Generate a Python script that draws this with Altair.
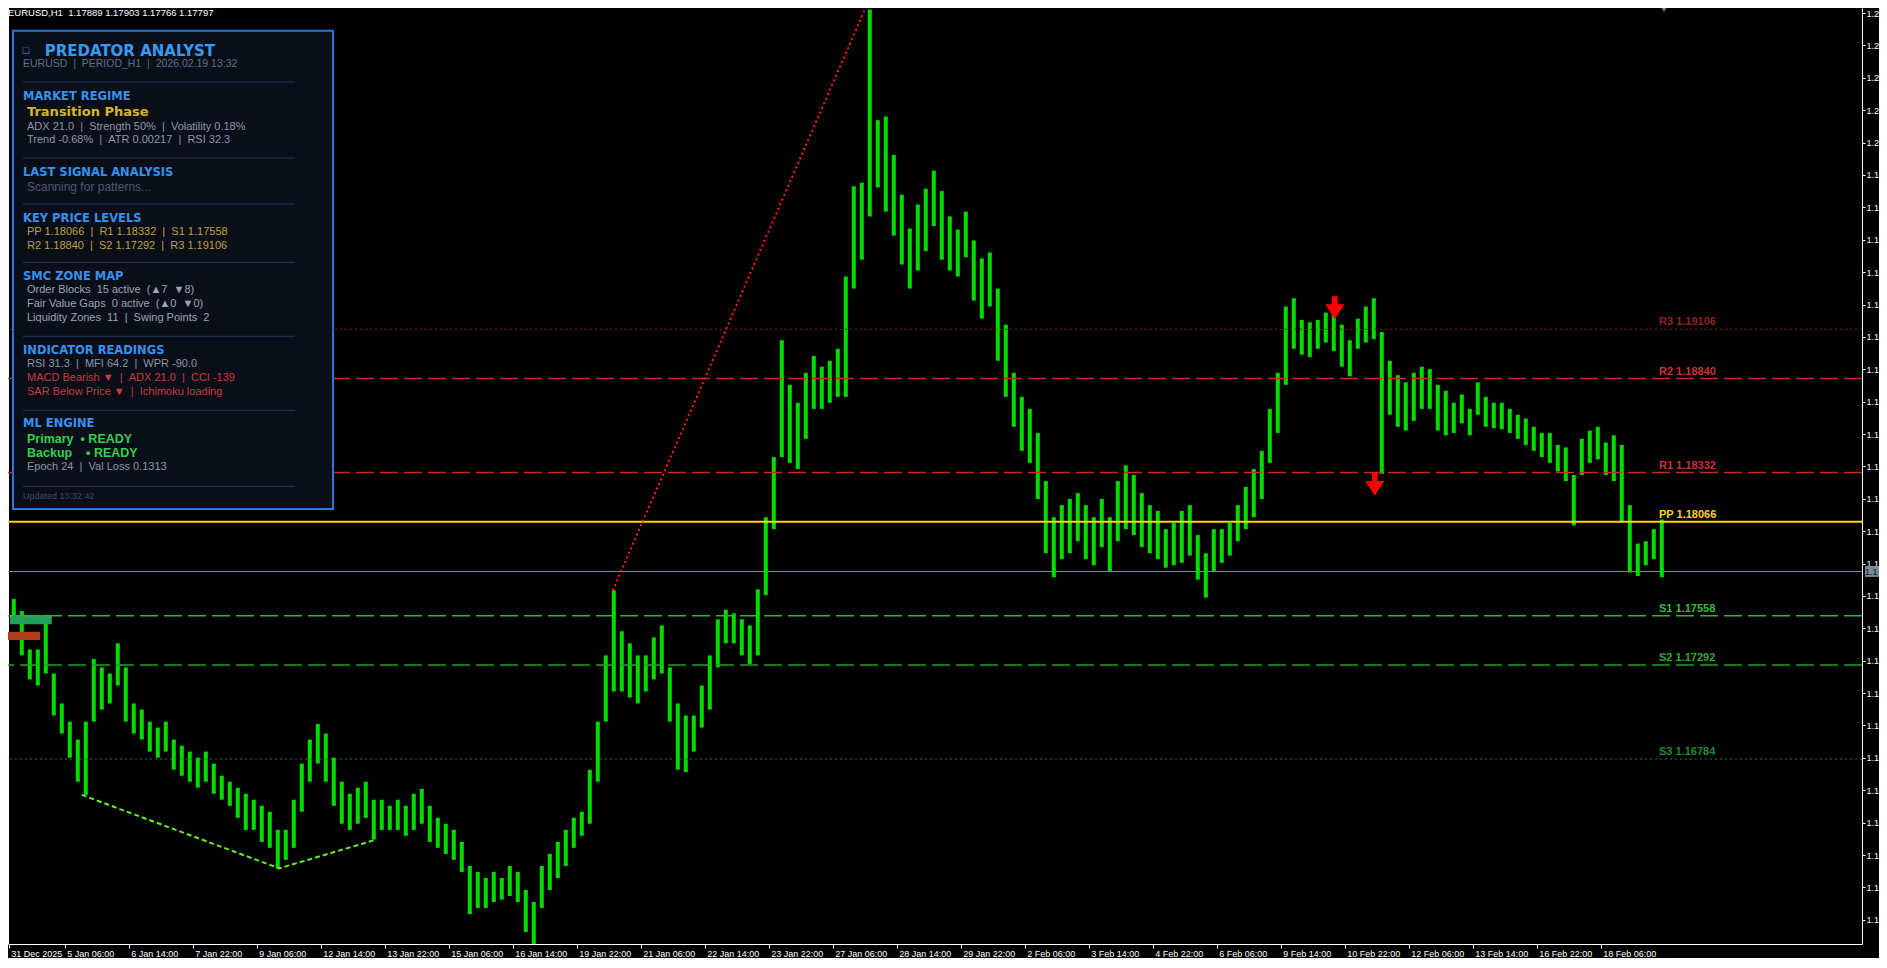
import altair as alt
import pandas as pd

FONT = "Liberation Sans"
FONT_HEAVY = "DejaVu Sans"

# ---------------- price data: EURUSD H1, grouped in 4-hour blocks (high / low) ----------------
highs = [1.17539, 1.17649, 1.17584, 1.17376, 1.17376, 1.17539, 1.17246, 1.17084, 1.16986, 1.16889,
         1.16986, 1.17324, 1.17279, 1.17246, 1.17409, 1.17279, 1.17084, 1.17051, 1.16986, 1.16954,
         1.16986, 1.16889, 1.16856, 1.16824, 1.16791, 1.16824, 1.16759, 1.16694, 1.16661, 1.16629,
         1.16596, 1.16564, 1.16531, 1.16499, 1.16401, 1.16401, 1.16564, 1.16759, 1.16889, 1.16973,
         1.16921, 1.16791, 1.16661, 1.16596, 1.16629, 1.16661, 1.16564, 1.16564, 1.16531, 1.16564,
         1.16531, 1.16596, 1.16622, 1.16531, 1.16466, 1.16434, 1.16401, 1.16336, 1.16206, 1.16174,
         1.16141, 1.16174, 1.16141, 1.16206, 1.16174, 1.16076, 1.16011, 1.16206, 1.16271, 1.16336,
         1.16401, 1.16466, 1.16499, 1.16726, 1.16986, 1.17344, 1.17695, 1.17474, 1.17409, 1.17344,
         1.17344, 1.17441, 1.17506, 1.17279, 1.17084, 1.17019, 1.17019, 1.17181, 1.17344, 1.17539,
         1.17591, 1.17571, 1.17539, 1.17506, 1.17701, 1.18091, 1.18416, 1.19047, 1.18806, 1.18709,
         1.18871, 1.18962, 1.18904, 1.18936, 1.19001, 1.19391, 1.19879, 1.19898, 1.20834, 1.20236,
         1.20256, 1.20048, 1.19833, 1.19651, 1.19781, 1.19866, 1.19963, 1.19853, 1.19716, 1.19645,
         1.19742, 1.19586, 1.19489, 1.19521, 1.19326, 1.19131, 1.18871, 1.18741, 1.18676, 1.18546,
         1.18286, 1.18091, 1.18156, 1.18189, 1.18221, 1.18156, 1.18091, 1.18189, 1.18091, 1.18286,
         1.18371, 1.18319, 1.18221, 1.18156, 1.18124, 1.18026, 1.18059, 1.18124, 1.18156, 1.17994,
         1.17896, 1.18026, 1.18026, 1.18059, 1.18156, 1.18254, 1.18351, 1.18449, 1.18676, 1.18871,
         1.19229, 1.19274, 1.19157, 1.19144, 1.19157, 1.19196, 1.19183, 1.19131, 1.19047, 1.19164,
         1.19229, 1.19274, 1.19092, 1.18936, 1.18858, 1.18819, 1.18871, 1.18904, 1.18891, 1.18806,
         1.18774, 1.18709, 1.18754, 1.18676, 1.18819, 1.18741, 1.18709, 1.18709, 1.18676, 1.18644,
         1.18624, 1.18579, 1.18546, 1.18546, 1.18481, 1.18468, 1.18319, 1.18514, 1.18559, 1.18579,
         1.18494, 1.18533, 1.18481, 1.18156, 1.17948, 1.17961, 1.18026, 1.18078]
lows = [1.17441, 1.17539, 1.17344, 1.17214, 1.17181, 1.17246, 1.17019, 1.16921, 1.16791, 1.16661,
        1.16590, 1.16986, 1.17051, 1.17084, 1.17181, 1.16986, 1.16921, 1.16889, 1.16824, 1.16791,
        1.16824, 1.16726, 1.16694, 1.16661, 1.16629, 1.16661, 1.16596, 1.16564, 1.16531, 1.16466,
        1.16401, 1.16401, 1.16336, 1.16304, 1.16193, 1.16239, 1.16304, 1.16499, 1.16661, 1.16759,
        1.16661, 1.16531, 1.16434, 1.16401, 1.16434, 1.16466, 1.16349, 1.16401, 1.16401, 1.16401,
        1.16369, 1.16401, 1.16434, 1.16336, 1.16304, 1.16271, 1.16239, 1.16174, 1.15946, 1.15979,
        1.15979, 1.16011, 1.16024, 1.16044, 1.16011, 1.15849, 1.15784, 1.15979, 1.16076, 1.16141,
        1.16206, 1.16304, 1.16369, 1.16434, 1.16661, 1.16986, 1.17149, 1.17149, 1.17116, 1.17084,
        1.17149, 1.17214, 1.17246, 1.16986, 1.16726, 1.16713, 1.16824, 1.16954, 1.17051, 1.17279,
        1.17409, 1.17409, 1.17344, 1.17298, 1.17344, 1.17669, 1.18026, 1.18416, 1.18384, 1.18351,
        1.18514, 1.18676, 1.18676, 1.18709, 1.18741, 1.18741, 1.19326, 1.19482, 1.19716, 1.19872,
        1.19742, 1.19612, 1.19456, 1.19326, 1.19424, 1.19528, 1.19664, 1.19482, 1.19424, 1.19391,
        1.19495, 1.19261, 1.19164, 1.19229, 1.18936, 1.18741, 1.18579, 1.18449, 1.18384, 1.18189,
        1.17896, 1.17766, 1.17864, 1.17896, 1.17961, 1.17864, 1.17831, 1.17929, 1.17799, 1.17961,
        1.18026, 1.17994, 1.17929, 1.17896, 1.17864, 1.17818, 1.17831, 1.17844, 1.17883, 1.17753,
        1.17656, 1.17799, 1.17844, 1.17883, 1.17961, 1.18026, 1.18091, 1.18189, 1.18384, 1.18546,
        1.18806, 1.19001, 1.18969, 1.18956, 1.19001, 1.19034, 1.18988, 1.18904, 1.18852, 1.19001,
        1.19034, 1.19053, 1.18325, 1.18644, 1.18579, 1.18559, 1.18611, 1.18676, 1.18676, 1.18559,
        1.18533, 1.18546, 1.18598, 1.18533, 1.18644, 1.18579, 1.18572, 1.18566, 1.18546, 1.18514,
        1.18481, 1.18449, 1.18416, 1.18384, 1.18338, 1.18286, 1.18046, 1.18319, 1.18384, 1.18403,
        1.18319, 1.18286, 1.18065, 1.17792, 1.17773, 1.17831, 1.17864, 1.17766]
hours_per_group = 4
group_pos = [hours_per_group * k + 1.5 for k in range(len(highs))]   # bar index (hours)

# time axis (bar index of each label)
time_labels = ["31 Dec 2025", "5 Jan 06:00", "6 Jan 14:00", "7 Jan 22:00", "9 Jan 06:00", "12 Jan 14:00",
               "13 Jan 22:00", "15 Jan 06:00", "16 Jan 14:00", "19 Jan 22:00", "21 Jan 06:00", "22 Jan 14:00",
               "23 Jan 22:00", "27 Jan 06:00", "28 Jan 14:00", "29 Jan 22:00", "2 Feb 06:00", "3 Feb 14:00",
               "4 Feb 22:00", "6 Feb 06:00", "9 Feb 14:00", "10 Feb 22:00", "12 Feb 06:00", "13 Feb 14:00",
               "16 Feb 22:00", "18 Feb 06:00"]
time_ticks = [3, 31, 63, 95, 127, 159, 191, 223, 255, 287, 319, 351, 383, 415, 447, 479, 511, 543,
              575, 607, 639, 671, 703, 735, 767, 799]

price_ticks = [1.20815, 1.20640, 1.20465, 1.20290, 1.20115, 1.19940, 1.19765, 1.19590, 1.19415, 1.19240,
               1.19065, 1.18890, 1.18715, 1.18540, 1.18365, 1.18190, 1.18015, 1.17840, 1.17665, 1.17490,
               1.17315, 1.17140, 1.16965, 1.16790, 1.16615, 1.16440, 1.16265, 1.16090, 1.15915]

# pivot levels
level_names = ["R3", "R2", "R1", "PP", "S1", "S2", "S3"]
level_prices = [1.19106, 1.18840, 1.18332, 1.18066, 1.17558, 1.17292, 1.16784]
level_label_colors = ["#8e2020", "#c83232", "#c83232", "#ffd21a", "#3cba3c", "#2eaa2e", "#1f8a2f"]

bid_price = 1.17797
ohlc_text = "EURUSD,H1\u00a0\u00a01.17889 1.17903 1.17766 1.17797"

# drawings
trend_idx = [305, 431]
trend_price = [1.17695, 1.20834]
swing_idx = [39.5, 138.2, 186.9]
swing_price = [1.16590, 1.16193, 1.16349]
ob_start = [3.6, 0.0]
ob_end = [24.5, 18.6]
ob_top = [1.17562, 1.17472]
ob_bottom = [1.17512, 1.17427]
ob_colors = ["#24a05c", "#b03e1c"]
arrow_idx = [666, 686]
arrow_price = [1.19223, 1.18268]

# info panel
S = "\u00a0\u00a0"
panel_text = ["□", "PREDATOR ANALYST", f"EURUSD{S}|{S}PERIOD_H1{S}|{S}2026.02.19 13:32",
              "MARKET REGIME", "Transition Phase",
              f"ADX 21.0{S}|{S}Strength 50%{S}|{S}Volatility 0.18%",
              f"Trend -0.68%{S}|{S}ATR 0.00217{S}|{S}RSI 32.3",
              "LAST SIGNAL ANALYSIS", "Scanning for patterns...",
              "KEY PRICE LEVELS",
              f"PP 1.18066{S}|{S}R1 1.18332{S}|{S}S1 1.17558",
              f"R2 1.18840{S}|{S}S2 1.17292{S}|{S}R3 1.19106",
              "SMC ZONE MAP",
              f"Order Blocks{S}15 active{S}(▲7{S}▼8)",
              f"Fair Value Gaps{S}0 active{S}(▲0{S}▼0)",
              f"Liquidity Zones{S}11{S}|{S}Swing Points{S}2",
              "INDICATOR READINGS",
              f"RSI 31.3{S}|{S}MFI 64.2{S}|{S}WPR -90.0",
              f"MACD Bearish ▼{S}|{S}ADX 21.0{S}|{S}CCI -139",
              f"SAR Below Price ▼{S}|{S}Ichimoku loading",
              "ML ENGINE", f"Primary{S}• READY", f"Backup{S}\u00a0\u00a0• READY",
              f"Epoch 24{S}|{S}Val Loss 0.1313", "Updated 13:32:42"]
panel_kind = ["icon", "title", "sub", "head", "regime", "stat", "stat", "head", "dim", "head",
              "level", "level", "head", "smc", "smc", "smc", "head", "stat", "alert", "alert",
              "head", "ml", "ml", "stat", "foot"]
panel_x = [14.7, 36.7, 15, 15, 19, 19, 19, 15, 19, 15, 19, 19, 15, 19, 19, 19, 15, 19, 19, 19,
           15, 19, 19, 19, 15]
panel_y = [43, 43, 56, 88.7, 104.3, 118.7, 132, 164.7, 178.7, 210.7, 223.7, 238, 268.7, 282.3,
           296, 310.3, 342.7, 356.3, 370.3, 384.3, 416.3, 431, 444.7, 458.7, 488]
panel_sep_y = [74, 150, 196, 254.3, 328.3, 402.3, 478.3]
kind_style = {
    "icon": (FONT, 11, "normal", "#3a9af0"),
    "title": (FONT_HEAVY, 15, "bold", "#3a9af0"),
    "sub": (FONT, 10.5, "normal", "#5f6f86"),
    "head": (FONT_HEAVY, 11.5, "bold", "#3592ee"),
    "regime": (FONT_HEAVY, 13, "bold", "#d8b52c"),
    "stat": (FONT, 11, "normal", "#8b96a8"),
    "dim": (FONT, 12, "normal", "#4a5875"),
    "level": (FONT, 11, "normal", "#bfa13b"),
    "smc": (FONT, 11, "normal", "#9aa5b6"),
    "alert": (FONT, 11, "normal", "#c93b3b"),
    "ml": (FONT, 12.5, "bold", "#2ed24a"),
    "foot": (FONT, 9, "normal", "#364a6c"),
}

# ---------------- chart ----------------
W, H = 1854, 936
xs = alt.Scale(domain=[2.6, 929.6], nice=False, zero=False)
ys = alt.Scale(domain=[1.157842, 1.208423], nice=False, zero=False)

tick_expr = ("[" + ",".join("'%s'" % s for s in time_labels) + "][indexof(["
             + ",".join(str(t) for t in time_ticks) + "], datum.value)]")

xaxis = alt.Axis(orient="bottom", values=time_ticks, labelExpr=tick_expr, title=None,
                 labelAlign="left", labelOffset=2, labelOverlap=False, labelFlush=False,
                 labelBound=False, tickSize=4, labelFontSize=9, labelPadding=1,
                 labelBaseline="top", grid=False, domainColor="#ffffff", tickColor="#ffffff",
                 labelColor="#ffffff", labelFont=FONT)
yaxis = alt.Axis(orient="right", values=price_ticks,
                 labelExpr="substring(format(datum.value, '.5f'), 0, 3)", title=None, tickSize=3,
                 labelFontSize=9, labelPadding=1, labelOverlap=False, labelFlush=False,
                 labelBound=False, grid=False, domainColor="#ffffff", tickColor="#ffffff",
                 labelColor="#ffffff", labelFont=FONT)


def X(field):
    return alt.X(field, scale=xs, axis=xaxis)


def Y(field):
    return alt.Y(field, scale=ys, axis=yaxis)


bars_df = pd.DataFrame({"pos": group_pos, "high": highs, "low": lows})
bars = alt.Chart(bars_df).mark_rule(color="#00dc00", strokeWidth=4, clip=True).encode(
    x=X("pos:Q"), y=Y("low:Q"), y2="high:Q")

one = pd.DataFrame({"a": [0]})
left_frame = alt.Chart(one).mark_rule(color="#ffffff", strokeWidth=1).encode(
    x=alt.value(0.5), y=alt.value(0), y2=alt.value(H))

ob_df = pd.DataFrame({"x0": ob_start, "x1": ob_end, "top": ob_top, "bot": ob_bottom, "col": ob_colors})
obs = alt.Chart(ob_df).mark_rect(clip=True).encode(
    x=X("x0:Q"), x2="x1:Q", y=Y("top:Q"), y2="bot:Q",
    color=alt.Color("col:N", scale=None))

trend_df = pd.DataFrame({"idx": trend_idx, "price": trend_price})
trend = alt.Chart(trend_df).mark_line(color="#ff1e1e", strokeDash=[2, 3], strokeWidth=2, clip=True).encode(
    x=X("idx:Q"), y=Y("price:Q"))

swing_df = pd.DataFrame({"idx": swing_idx, "price": swing_price})
swing = alt.Chart(swing_df).mark_line(color="#66ee22", strokeDash=[5, 3], strokeWidth=2, clip=True).encode(
    x=X("idx:Q"), y=Y("price:Q"))

lv_df = pd.DataFrame({"name": level_names, "price": level_prices, "col": level_label_colors})
lv_df["label"] = lv_df["name"] + " " + lv_df["price"].map(lambda v: "%.5f" % v)


def level_rule(names, color, dash, width):
    m = dict(color=color, strokeWidth=width)
    if dash:
        m["strokeDash"] = dash
    return alt.Chart(lv_df).transform_filter(
        alt.FieldOneOfPredicate(field="name", oneOf=names)
    ).mark_rule(**m).encode(y=Y("price:Q"))


lv_layers = [
    level_rule(["R3"], "#8a1c1c", [2, 3], 1),
    level_rule(["R2", "R1"], "#cc2a2a", [18, 6], 1.5),
    level_rule(["PP"], "#ffd700", None, 2),
    level_rule(["S1"], "#2db82d", [18, 6], 1.5),
    level_rule(["S2"], "#24a024", [18, 6], 1.5),
    level_rule(["S3"], "#1c7f2a", [2, 3], 1),
]
lv_text = alt.Chart(lv_df).mark_text(align="left", baseline="middle", dy=-7, font=FONT,
                                     fontSize=11, fontWeight="bold").encode(
    x=alt.value(1651), y=Y("price:Q"),
    text="label:N", color=alt.Color("col:N", scale=None))

bid_df = pd.DataFrame({"price": [bid_price], "label": [("%.5f" % bid_price)[:3]]})
bid_line = alt.Chart(bid_df).mark_rule(color="#7b8a9c", strokeWidth=1).encode(y=Y("price:Q"))
bid_box = alt.Chart(bid_df).mark_point(
    shape="M-1,-0.6L1,-0.6L1,0.6L-1,0.6Z", size=324, filled=True, opacity=1, color="#778899"
).encode(x=alt.value(1866), y=Y("price:Q"))
bid_text = alt.Chart(bid_df).mark_text(align="left", baseline="middle", font=FONT, fontSize=9,
                                       color="#101010").encode(
    x=alt.value(1857), y=Y("price:Q"), text="label:N")

arrow_df = pd.DataFrame({"idx": arrow_idx, "price": arrow_price})
arrows = alt.Chart(arrow_df).mark_point(
    shape="M-0.25,-1L0.25,-1L0.25,-0.3L0.83,-0.3L0,1L-0.83,-0.3L-0.25,-0.3Z",
    size=529, filled=True, opacity=1, color="#ff0000", strokeWidth=0
).encode(x=X("idx:Q"), y=Y("price:Q"))

panel_box = alt.Chart(one).mark_rect(fill="#0a0e18", stroke="#2a78d8", strokeWidth=2).encode(
    x=alt.value(5), x2=alt.value(325), y=alt.value(22.7), y2=alt.value(501))
sep_df = pd.DataFrame({"y": panel_sep_y})
panel_seps = alt.Chart(sep_df).mark_rule(color="#1c3566", strokeWidth=1).encode(
    x=alt.value(15), x2=alt.value(287), y=alt.Y("y:Q", scale=None))

panel_df = pd.DataFrame({"text": panel_text, "kind": panel_kind, "x": panel_x, "y": panel_y})
panel_layers = []
for kind, (ff, fs, fw, col) in kind_style.items():
    panel_layers.append(
        alt.Chart(panel_df).transform_filter(alt.datum.kind == kind).mark_text(
            align="left", baseline="middle", font=ff, fontSize=fs, fontWeight=fw, color=col
        ).encode(x=alt.X("x:Q", scale=None), y=alt.Y("y:Q", scale=None), text="text:N")
    )

hdr_df = pd.DataFrame({"t": [ohlc_text]})
header = alt.Chart(hdr_df).mark_text(align="left", baseline="top", font=FONT, fontSize=9.5,
                                     color="#ffffff").encode(
    x=alt.value(0), y=alt.value(0), text="t:N")
shift_marker = alt.Chart(one).mark_point(shape="triangle-down", size=90, filled=True, opacity=1,
                                         color="#778899").encode(x=alt.value(1656), y=alt.value(0))

chart = alt.layer(
    bars, left_frame, obs, *lv_layers, bid_line, trend, swing, lv_text, arrows,
    panel_box, panel_seps, *panel_layers, header, shift_marker, bid_box, bid_text,
).properties(
    width=W, height=H,
    autosize=alt.AutoSizeParams(type="none"),
    padding={"left": 0, "top": 0, "right": 17, "bottom": 14},
    background="#000000",
).configure_view(strokeWidth=0)

chart.save("out.html", embed_options={"renderer": "svg", "actions": False})
